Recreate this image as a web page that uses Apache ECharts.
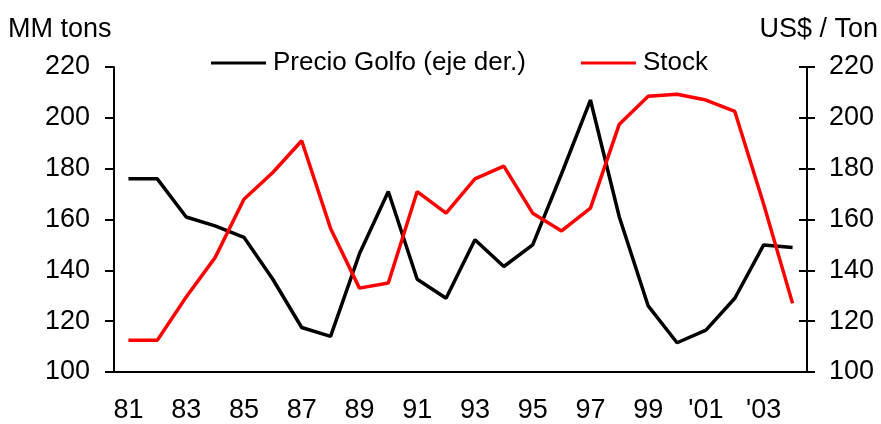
<!DOCTYPE html>
<html>
<head>
<meta charset="utf-8">
<script src="https://cdn.jsdelivr.net/npm/echarts@6/dist/echarts.min.js"></script>
<style>
  html, body { margin: 0; padding: 0; background: #fff; }
  #chart { width: 881px; height: 424px; }
</style>
</head>
<body>
<div id="chart"></div>
<script>
// años 1981 - 2004
const years = ['81','82','83','84','85','86','87','88','89','90','91','92','93','94','95','96','97','98','99',"'00","'01","'02","'03","'04"];

// Precio Golfo (US$ / Ton, eje derecho)
const precioGolfo = [176, 176, 161, 157.5, 153, 136.5, 117.5, 114, 146.5, 171, 136.5, 129, 152, 141.5, 150, 178, 207, 161, 126, 111.5, 116.5, 129, 150, 149];

// Stock (MM tons, eje izquierdo)
const stock = [112.5, 112.5, 129.5, 145, 168, 178.5, 191, 156.5, 133, 135, 171, 162.5, 176, 181, 162.5, 155.5, 164.5, 197.5, 208.5, 209.3, 207, 202.5, 166, 127];

const yMin = 100, yMax = 220, yStep = 20;

const font = 'Liberation Sans, Arial, sans-serif';
const fs = 27;

const chart = echarts.init(document.getElementById('chart'));

const option = {
  animation: false,
  backgroundColor: '#fff',
  textStyle: { fontFamily: font },
  grid: { left: 114, right: 74, top: 67, bottom: 50 },
  legend: {
    left: 211,
    top: 50,
    padding: 0,
    itemWidth: 55,
    itemHeight: 3,
    itemGap: 55,
    icon: 'rect',
    textStyle: { fontFamily: font, fontSize: 26, color: '#000', padding: [0, 0, 0, 2] },
    data: ['Precio Golfo (eje der.)', 'Stock']
  },
  graphic: [
    { type: 'text', left: 8, top: 16, style: { text: 'MM tons', font: fs + 'px ' + font, fill: '#000' } },
    { type: 'text', right: 3, top: 16, style: { text: 'US$ / Ton', font: fs + 'px ' + font, fill: '#000' } }
  ],
  xAxis: {
    type: 'category',
    data: years,
    boundaryGap: true,
    axisLine: { lineStyle: { color: '#000', width: 2 } },
    axisTick: { interval: 1, length: 9, lineStyle: { color: '#000', width: 2 } },
    axisLabel: { interval: 1, margin: 25, fontSize: fs, color: '#000', fontFamily: font },
    splitLine: { show: false }
  },
  yAxis: [
    {
      type: 'value', position: 'left', min: yMin, max: yMax, interval: yStep,
      axisLine: { show: true, lineStyle: { color: '#000', width: 2 } },
      axisTick: { show: true, length: 9, lineStyle: { color: '#000', width: 2 } },
      axisLabel: { margin: 24, fontSize: fs, color: '#000', fontFamily: font },
      splitLine: { show: false }
    },
    {
      type: 'value', position: 'right', min: yMin, max: yMax, interval: yStep,
      axisLine: { show: true, lineStyle: { color: '#000', width: 2 } },
      axisTick: { show: true, length: 8, lineStyle: { color: '#000', width: 2 } },
      axisLabel: { margin: 22, fontSize: fs, color: '#000', fontFamily: font },
      splitLine: { show: false }
    },
    {
      // inner half of the crossing ticks on the right axis
      type: 'value', position: 'right', min: yMin, max: yMax, interval: yStep,
      axisLine: { show: false },
      axisTick: { show: true, inside: true, length: 8, lineStyle: { color: '#000', width: 2 } },
      axisLabel: { show: false },
      splitLine: { show: false }
    }
  ],
  series: [
    {
      name: 'Precio Golfo (eje der.)',
      type: 'line',
      yAxisIndex: 1,
      data: precioGolfo,
      symbol: 'none',
      color: '#000',
      lineStyle: { color: '#000', width: 3.5 }
    },
    {
      name: 'Stock',
      type: 'line',
      yAxisIndex: 0,
      data: stock,
      symbol: 'none',
      color: '#ff0000',
      lineStyle: { color: '#ff0000', width: 3.5 }
    }
  ]
};

chart.setOption(option);
</script>
</body>
</html>
